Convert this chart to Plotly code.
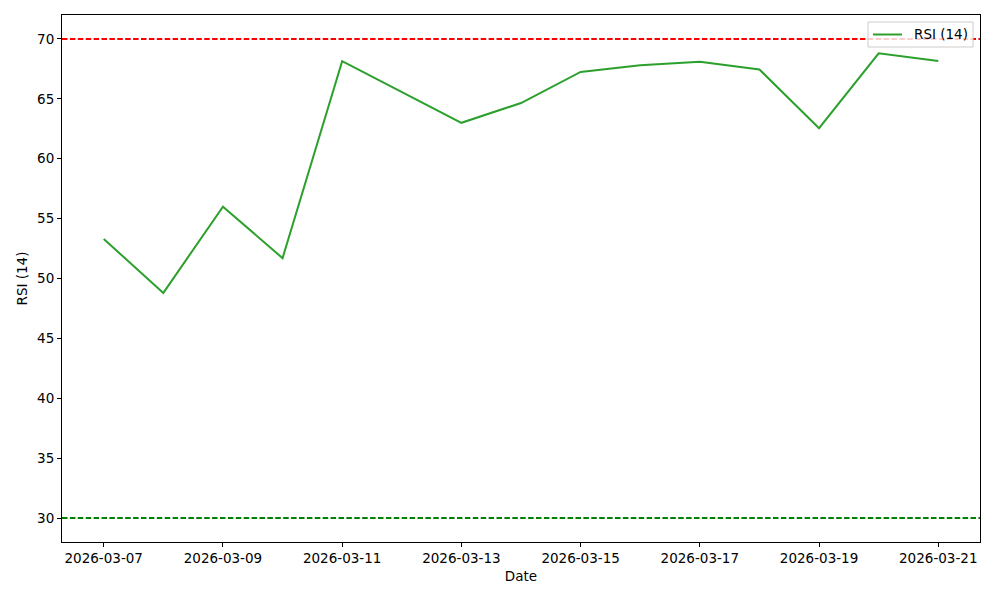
import plotly.graph_objects as go
import pandas as pd

dates = pd.date_range("2026-03-07", "2026-03-21", freq="D").strftime("%Y-%m-%d").tolist()
rsi_values = [53.3, 48.8, 56.0, 51.7, 68.15, 65.55, 63.0, 64.65, 67.25, 67.8, 68.1, 67.45, 62.55, 68.8, 68.15]
overbought = 70
oversold = 30
tick_dates = ["2026-03-07", "2026-03-09", "2026-03-11", "2026-03-13", "2026-03-15", "2026-03-17", "2026-03-19", "2026-03-21"]
series_name = "RSI (14)"
line_color = "#2ca02c"

fig = go.Figure()
fig.add_trace(go.Scatter(x=dates, y=rsi_values, mode="lines", name=series_name,
                         line=dict(color=line_color, width=2), showlegend=False))
fig.add_hline(y=overbought, line=dict(color="red", width=2, dash="5.5px,2.4px"))
fig.add_hline(y=oversold, line=dict(color="green", width=2, dash="5.5px,2.4px"))

# matplotlib-style legend box (drawn in paper coordinates)
fig.add_shape(type="rect", xref="paper", yref="paper", x0=0.878, x1=0.9924, y0=0.9393, y1=0.9867,
              fillcolor="rgba(255,255,255,0.8)", line=dict(color="#cccccc", width=1), layer="above")
fig.add_shape(type="line", xref="paper", yref="paper", x0=0.8834, x1=0.9150, y0=0.963, y1=0.963,
              line=dict(color=line_color, width=2), layer="above")
fig.add_annotation(xref="paper", yref="paper", x=0.9255, y=0.963, xanchor="left", yanchor="middle",
                   text=series_name, showarrow=False,
                   font=dict(family="DejaVu Sans", size=13.5, color="black"))

fnt = dict(family="DejaVu Sans", size=13.5, color="black")
fig.update_layout(
    width=1000, height=600,
    margin=dict(l=54, r=28, t=7, b=66, autoexpand=False),
    paper_bgcolor="white", plot_bgcolor="white",
    font=fnt,
    showlegend=False,
    xaxis=dict(
        title=dict(text="Date", font=fnt, standoff=6),
        automargin=False,
        range=["2026-03-06 07:12", "2026-03-21 16:48"],
        tickvals=tick_dates, ticktext=tick_dates, tickfont=fnt,
        showgrid=False, zeroline=False,
        showline=True, linecolor="black", linewidth=1, mirror=True,
        ticks="outside", ticklen=4, tickcolor="black",
    ),
    yaxis=dict(
        title=dict(text="RSI (14)", font=fnt, standoff=6),
        automargin=False,
        range=[28, 72],
        tickvals=[30, 35, 40, 45, 50, 55, 60, 65, 70], tickfont=fnt,
        showgrid=False, zeroline=False,
        showline=True, linecolor="black", linewidth=1, mirror=True,
        ticks="outside", ticklen=4, tickcolor="black",
    ),
)

fig.write_html("out.html")
